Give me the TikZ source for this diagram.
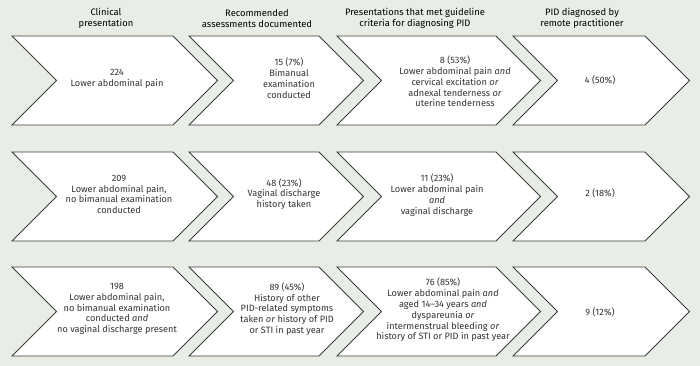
\documentclass[tikz,border=0pt]{standalone}
\usepackage{fontspec}
\setmainfont{Fira Sans}
\usepackage{xcolor}
\usepackage{tikz}

\definecolor{bgpanel}{HTML}{E8EEE6}
\definecolor{chevline}{HTML}{3C3C3C}
\definecolor{bodytext}{HTML}{333333}

\begin{document}
\begin{tikzpicture}[x=1pt,y=-1pt,
    chev/.style={draw=chevline,fill=white,line width=0.8pt,line join=miter},
    head/.style={align=center,inner sep=0pt,text=black,font=\fontsize{9.4}{11}\selectfont},
    txt/.style={align=center,inner sep=0pt,text=bodytext,font=\fontsize{9.2}{10.8}\selectfont}]
            \fill[bgpanel] (0,0) rectangle (700,366);
            \useasboundingbox (0,0) rectangle (700,366);
            \foreach \ytop in {36,152,267} {
                    \foreach \l/\r in {12/173,189/319,337/496,513/645} {
                            \draw[chev] (\l,\ytop) -- (\r,\ytop) -- (\r+44.5,\ytop+44.5) -- (\r,\ytop+89)
                                -- (\l,\ytop+89) -- (\l+44.5,\ytop+44.5) -- cycle;
                        }
                }
            \node[head] (hclin) at (106,18.5) {Clinical\\presentation};
            \node[head] (hrec) at (257,18.5) {Recommended\\assessments documented};
            \node[head] (hcrit) at (415,18.5) {Presentations that met guideline\\criteria for diagnosing PID};
            \node[head] (hdiag) at (582,18.5) {PID diagnosed by\\remote practitioner};
            \node[txt] (clinA) at (117,78.5) {224\\Lower abdominal pain};
            \node[txt] (recA) at (289,78) {15 (7\%)\\Bimanual\\examination\\conducted};
            \node[txt] (critA) at (455,81.5) {8 (53\%)\\Lower abdominal pain \textit{and}\\cervical excitation \textit{or}\\adnexal tenderness \textit{or}\\uterine tenderness};
            \node[txt] (diagA) at (600,80) {4 (50\%)};
            \node[txt] (clinB) at (119,194.5) {209\\Lower abdominal pain,\\no bimanual examination\\conducted};
            \node[txt] (recB) at (284,194) {48 (23\%)\\Vaginal discharge\\history taken};
            \node[txt] (critB) at (437,195) {11 (23\%)\\Lower abdominal pain\\\textit{and}\\vaginal discharge};
            \node[txt] (diagB) at (600,193) {2 (18\%)};
            \node[txt] (clinC) at (117,309) {198\\Lower abdominal pain,\\no bimanual examination\\conducted \textit{and}\\no vaginal discharge present};
            \node[txt] (recC) at (287,309) {89 (45\%)\\History of other\\PID-related symptoms\\taken \textit{or} history of PID\\or STI in past year};
            \node[txt] (critC) at (443,310) {76 (85\%)\\Lower abdominal pain \textit{and}\\aged 14--34 years \textit{and}\\dyspareunia \textit{or}\\intermenstrual bleeding \textit{or}\\history of STI or PID in past year};
            \node[txt] (diagC) at (600,312) {9 (12\%)};
        \end{tikzpicture}
\end{document}
